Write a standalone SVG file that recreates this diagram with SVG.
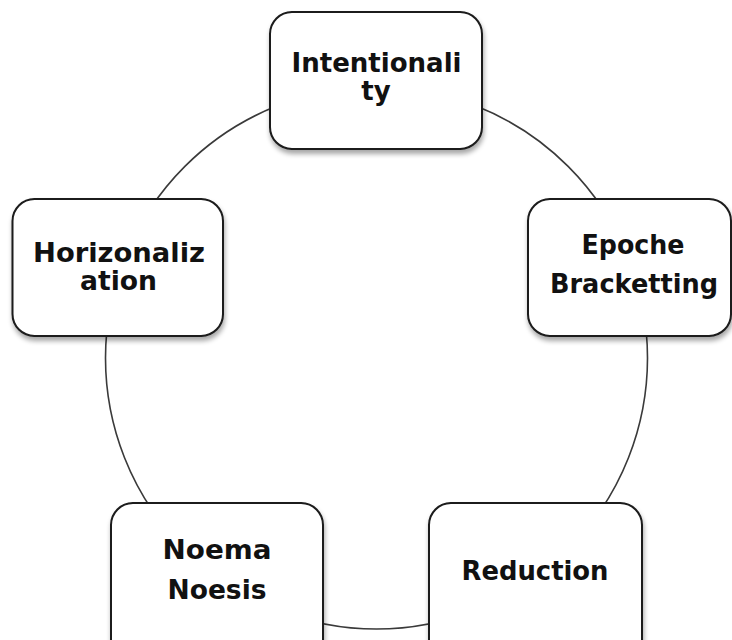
<svg xmlns="http://www.w3.org/2000/svg" width="732" height="640" viewBox="0 0 732 640">
<defs>
<filter id="sh" x="-10%" y="-10%" width="125%" height="130%">
<feGaussianBlur in="SourceAlpha" stdDeviation="2.5"/>
<feOffset dx="1" dy="4" result="b"/>
<feComponentTransfer><feFuncA type="linear" slope="0.35"/></feComponentTransfer>
<feMerge><feMergeNode/><feMergeNode in="SourceGraphic"/></feMerge>
</filter>
</defs>
<style>
.box{fill:#fff;stroke:#1a1a1a;stroke-width:2;filter:url(#sh)}
.lbl{font-family:"DejaVu Sans","Liberation Sans",sans-serif;font-weight:bold;font-size:26px;fill:#111;text-anchor:middle}
.ring{fill:none;stroke:#3a3a3a;stroke-width:1.6}
</style>
<rect width="732" height="640" fill="#fff"/>
<g id="connectors">
<circle class="ring" cx="376.5" cy="358" r="271"/>
</g>
<g id="intentionality">
<rect class="box" x="270" y="12" width="212" height="137" rx="22"/>
<text class="lbl" x="376.5" y="72" textLength="170" lengthAdjust="spacingAndGlyphs">Intentionali</text>
<text class="lbl" x="376" y="100">ty</text>
</g>
<g id="epoche">
<rect class="box" x="528" y="199" width="203" height="137" rx="22"/>
<text class="lbl" x="633" y="254" textLength="103" lengthAdjust="spacingAndGlyphs">Epoche</text>
<text class="lbl" x="634" y="293" textLength="168" lengthAdjust="spacingAndGlyphs">Bracketting</text>
</g>
<g id="reduction">
<rect class="box" x="429" y="503" width="213" height="160" rx="22"/>
<text class="lbl" x="535" y="580" textLength="147" lengthAdjust="spacingAndGlyphs">Reduction</text>
</g>
<g id="noema">
<rect class="box" x="111" y="503" width="212" height="160" rx="22"/>
<text class="lbl" x="217" y="559" textLength="109" lengthAdjust="spacingAndGlyphs">Noema</text>
<text class="lbl" x="217" y="599" textLength="99" lengthAdjust="spacingAndGlyphs">Noesis</text>
</g>
<g id="horizonalization">
<rect class="box" x="12.5" y="199" width="210.5" height="137" rx="22"/>
<text class="lbl" x="119" y="262" textLength="172" lengthAdjust="spacingAndGlyphs">Horizonaliz</text>
<text class="lbl" x="118.5" y="289.5" textLength="77" lengthAdjust="spacingAndGlyphs">ation</text>
</g>
</svg>
